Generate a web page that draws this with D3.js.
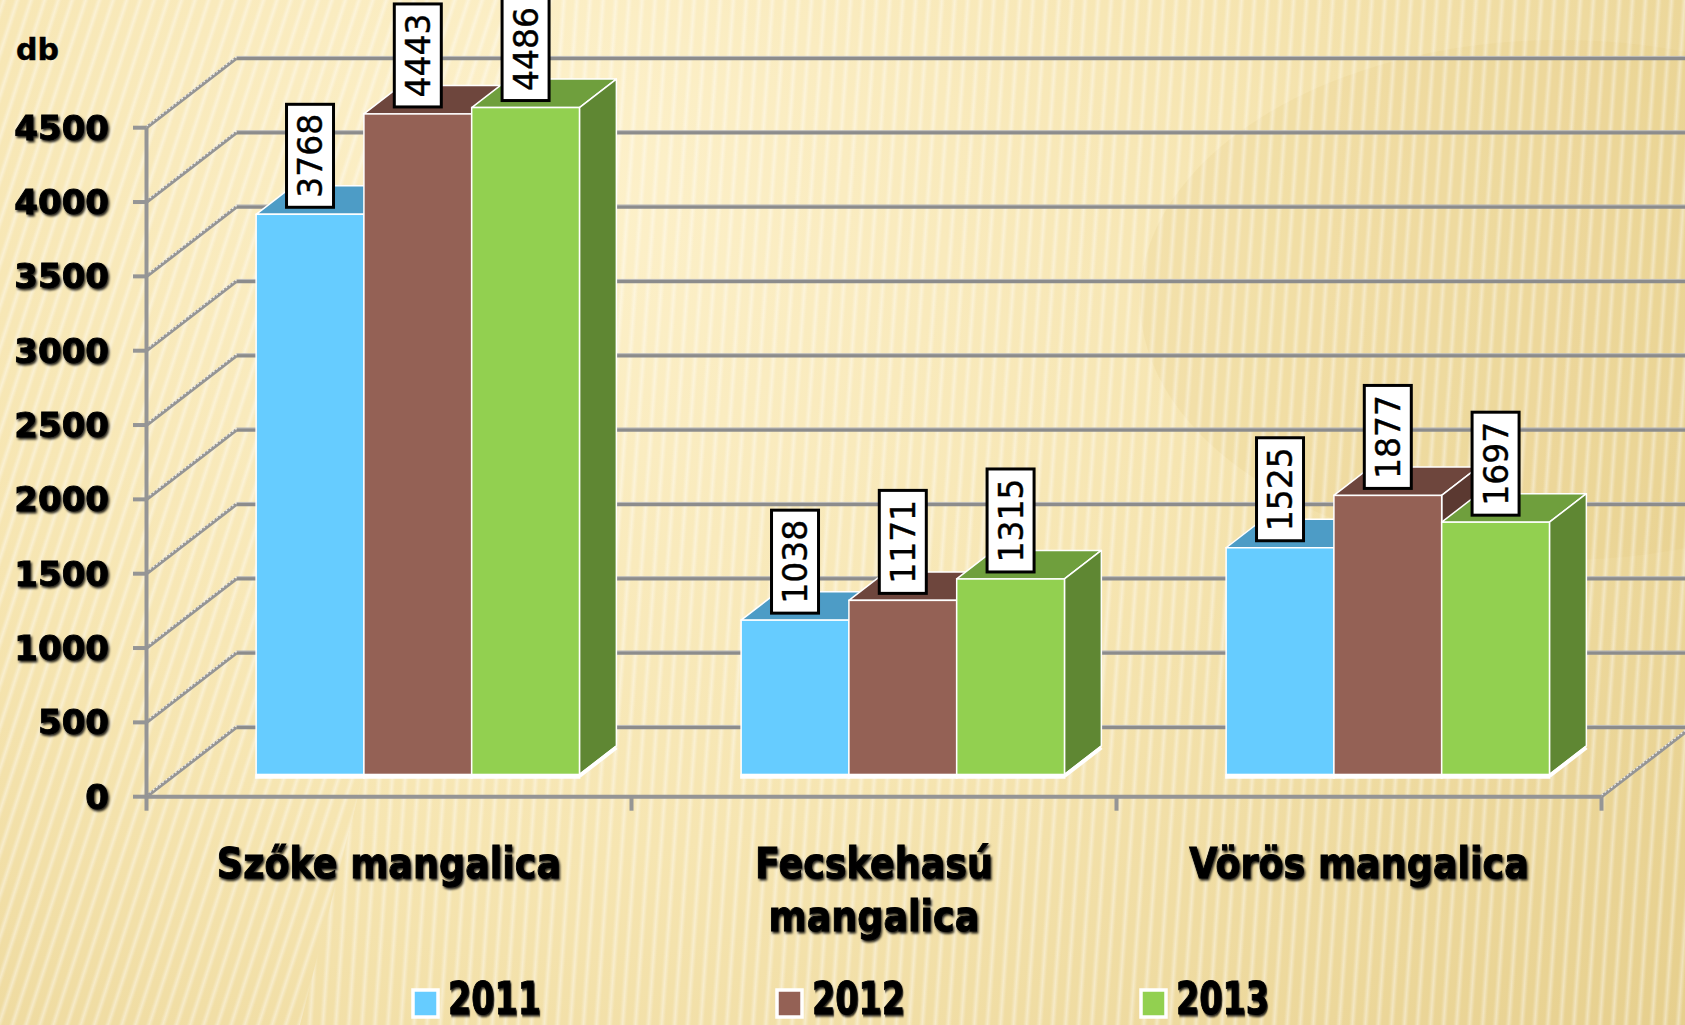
<!DOCTYPE html>
<html>
<head>
<meta charset="utf-8">
<script src="https://cdn.jsdelivr.net/npm/d3@7"></script>
<style>
  body { margin: 0; overflow: hidden; background: #f5e6b4; }
  text { font-family: 'DejaVu Sans', Verdana, sans-serif; }
</style>
</head>
<body>
<svg id="chart" width="1685" height="1025"></svg>
<script>
// data
const categories = ['Szőke mangalica', 'Fecskehasú mangalica', 'Vörös mangalica'];
const categoryLines = [['Szőke mangalica'], ['Fecskehasú', 'mangalica'], ['Vörös mangalica']];
const series = ['2011', '2012', '2013'];
const values2011 = [3768, 1038, 1525];
const values2012 = [4443, 1171, 1877];
const values2013 = [4486, 1315, 1697];
const yTicks = [0, 500, 1000, 1500, 2000, 2500, 3000, 3500, 4000, 4500];
const yUnit = 'db';

const seriesValues = [values2011, values2012, values2013];
const faceColors = [
  { front: '#66ccff', top: '#4d9cc6', side: '#3d85ab' },
  { front: '#946155', top: '#6e463d', side: '#5b3931' },
  { front: '#92d050', top: '#6f9f3d', side: '#5f8733' },
];

const svg = d3.select('#chart');
const defs = svg.append('defs');

// background
const bg = defs.append('radialGradient').attr('id', 'bg')
  .attr('gradientUnits', 'userSpaceOnUse')
  .attr('cx', 560).attr('cy', 180).attr('r', 1500);
bg.append('stop').attr('offset', '0').attr('stop-color', '#fdf1cb');
bg.append('stop').attr('offset', '0.45').attr('stop-color', '#f6e5b1');
bg.append('stop').attr('offset', '1').attr('stop-color', '#e4cc88');

const stripeGrad = defs.append('linearGradient').attr('id', 'stripeGrad');
stripeGrad.append('stop').attr('offset', '0').attr('stop-color', '#fff').attr('stop-opacity', 0);
stripeGrad.append('stop').attr('offset', '0.5').attr('stop-color', '#fff').attr('stop-opacity', 0.4);
stripeGrad.append('stop').attr('offset', '1').attr('stop-color', '#fff').attr('stop-opacity', 0);

function stripes(id, angle) {
  const p = defs.append('pattern').attr('id', id)
    .attr('patternUnits', 'userSpaceOnUse')
    .attr('width', 13).attr('height', 2000)
    .attr('patternTransform', `rotate(${angle})`);
  p.append('rect').attr('width', 7).attr('height', 2000).attr('fill', 'url(#stripeGrad)');
}
stripes('stripesL', 18);
stripes('stripesR', 4);

defs.append('clipPath').attr('id', 'leftClip')
  .append('path').attr('d', 'M0,0H560L300,1025H0Z');
defs.append('clipPath').attr('id', 'rightClip')
  .append('path').attr('d', 'M560,0H1685V1025H300Z');

svg.append('rect').attr('width', 1685).attr('height', 1025).attr('fill', 'url(#bg)');
svg.append('ellipse').attr('cx', 1560).attr('cy', 300).attr('rx', 420).attr('ry', 260)
  .attr('fill', '#e2c981').attr('opacity', 0.18);
svg.append('rect').attr('width', 1685).attr('height', 1025)
  .attr('fill', 'url(#stripesL)').attr('clip-path', 'url(#leftClip)');
svg.append('rect').attr('width', 1685).attr('height', 1025)
  .attr('fill', 'url(#stripesR)').attr('clip-path', 'url(#rightClip)');

const shadow = defs.append('filter').attr('id', 'shadow')
  .attr('x', '-10%').attr('y', '-10%').attr('width', '130%').attr('height', '140%');
shadow.append('feDropShadow').attr('dx', 1.5).attr('dy', 2).attr('stdDeviation', 1)
  .attr('flood-color', '#000').attr('flood-opacity', 0.85);

// geometry
const left = 146.5, right = 1601.5;
const depth = { dx: 90, dy: -69.5 };
const t0 = 0.32, t1 = 0.73;

const y = d3.scaleLinear().domain([0, 4500]).range([796.7, 127.7]);
const x0 = d3.scaleBand().domain(categories).range([left, right]).paddingInner(0).paddingOuter(0);
const x1 = d3.scaleBand().domain(series).range([0, x0.bandwidth()]).paddingInner(0).paddingOuter(0.75);

const grid = svg.append('g').attr('class', 'grid');

// back wall gridlines
grid.selectAll('.back').data(yTicks).enter().append('line')
  .attr('x1', left + depth.dx).attr('x2', right + depth.dx + 10)
  .attr('y1', d => y(d) + depth.dy).attr('y2', d => y(d) + depth.dy)
  .attr('stroke', '#8c8c8c').attr('stroke-width', 4);
grid.selectAll('.backHi').data(yTicks).enter().append('line')
  .attr('x1', left + depth.dx).attr('x2', right + depth.dx + 10)
  .attr('y1', d => y(d) + depth.dy - 1.8).attr('y2', d => y(d) + depth.dy - 1.8)
  .attr('stroke', '#c4c4c4').attr('stroke-width', 0.8);

// side wall diagonals
grid.selectAll('.side').data(yTicks).enter().append('line')
  .attr('x1', left).attr('x2', left + depth.dx)
  .attr('y1', d => y(d)).attr('y2', d => y(d) + depth.dy)
  .attr('stroke', '#959595').attr('stroke-width', 3.5);
grid.selectAll('.sideHi').data(yTicks).enter().append('line')
  .attr('x1', left).attr('x2', left + depth.dx)
  .attr('y1', d => y(d) - 1.6).attr('y2', d => y(d) + depth.dy - 1.6)
  .attr('stroke', '#f4f4f4').attr('stroke-width', 1.1).attr('stroke-dasharray', '2,2');

// floor right edge
grid.append('line')
  .attr('x1', right).attr('y1', y(0))
  .attr('x2', right + depth.dx).attr('y2', y(0) + depth.dy)
  .attr('stroke', '#959595').attr('stroke-width', 3.5);
grid.append('line')
  .attr('x1', right).attr('y1', y(0) - 1.6)
  .attr('x2', right + depth.dx).attr('y2', y(0) + depth.dy - 1.6)
  .attr('stroke', '#f4f4f4').attr('stroke-width', 1.1).attr('stroke-dasharray', '2,2');

// axes
const axes = svg.append('g').attr('class', 'axes');
axes.append('line').attr('x1', left).attr('x2', left)
  .attr('y1', y(4500)).attr('y2', y(0) + 1.5)
  .attr('stroke', '#959595').attr('stroke-width', 4);
axes.selectAll('.ytick').data(yTicks).enter().append('line')
  .attr('x1', 133).attr('x2', left)
  .attr('y1', d => y(d)).attr('y2', d => y(d))
  .attr('stroke', '#959595').attr('stroke-width', 4);
axes.append('line').attr('x1', left).attr('x2', right)
  .attr('y1', y(0)).attr('y2', y(0))
  .attr('stroke', '#959595').attr('stroke-width', 4);
const catTicks = categories.map(c => x0(c)).concat([right]);
axes.selectAll('.xtick').data(catTicks).enter().append('line')
  .attr('x1', d => d).attr('x2', d => d)
  .attr('y1', y(0)).attr('y2', y(0) + 14)
  .attr('stroke', '#959595').attr('stroke-width', 4);

axes.selectAll('.ylabel').data(yTicks).enter().append('text')
  .attr('transform', d => `translate(109,${y(d) + 12})`)
  .attr('text-anchor', 'end')
  .attr('font-size', 34).attr('font-weight', 'bold').attr('fill', '#000')
  .attr('stroke', '#000').attr('stroke-width', 0.9)
  .attr('filter', 'url(#shadow)')
  .text(d => d);

svg.append('text').attr('x', 16).attr('y', 59.5)
  .attr('font-size', 30).attr('font-weight', 'bold').attr('fill', '#000')
  .attr('stroke', '#000').attr('stroke-width', 0.5)
  .text(yUnit);

// category labels
const catG = svg.append('g').attr('class', 'cats');
categories.forEach((c, i) => {
  const cx = x0(c) + x0.bandwidth() / 2;
  categoryLines[i].forEach((line, j) => {
    catG.append('text')
      .attr('transform', `translate(${cx},${878 + j * 53}) scale(0.87,1.02)`)
      .attr('text-anchor', 'middle')
      .attr('font-size', 42).attr('font-weight', 'bold').attr('fill', '#000')
      .attr('stroke', '#000').attr('stroke-width', 1)
      .attr('filter', 'url(#shadow)')
      .text(line);
  });
});

// bars
const bars = svg.append('g').attr('class', 'bars');
const off0 = { x: depth.dx * t0, y: depth.dy * t0 };
const dd = { x: depth.dx * (t1 - t0), y: depth.dy * (t1 - t0) };
const bw = x1.bandwidth();
const labels = [];

categories.forEach((c, ci) => {
  series.forEach((s, si) => {
    const v = seriesValues[si][ci];
    const col = faceColors[si];
    const xl = x0(c) + x1(s) + off0.x;
    const xr = xl + bw;
    const yt = y(v) + off0.y;
    const yb = y(0) + off0.y;
    const g = bars.append('g');
    g.append('polygon')
      .attr('points', [[xl, yt], [xr, yt], [xr + dd.x, yt + dd.y], [xl + dd.x, yt + dd.y]].join(' '))
      .attr('fill', col.top).attr('stroke', '#fff').attr('stroke-width', 1.5).attr('stroke-linejoin', 'round');
    g.append('polygon')
      .attr('points', [[xr, yt], [xr + dd.x, yt + dd.y], [xr + dd.x, yb + dd.y], [xr, yb]].join(' '))
      .attr('fill', col.side).attr('stroke', '#fff').attr('stroke-width', 1.5).attr('stroke-linejoin', 'round');
    g.append('line')
      .attr('x1', xr).attr('y1', yb + 1.5).attr('x2', xr + dd.x).attr('y2', yb + dd.y + 1.5)
      .attr('stroke', '#fff').attr('stroke-width', 4);
    g.append('rect')
      .attr('x', xl).attr('y', yt).attr('width', bw).attr('height', yb - yt)
      .attr('fill', col.front).attr('stroke', '#fff').attr('stroke-width', 1.5);
    g.append('line')
      .attr('x1', xl - 1).attr('x2', xr + 1).attr('y1', yb + 2).attr('y2', yb + 2)
      .attr('stroke', '#fff').attr('stroke-width', 4.5);
    labels.push({ v, cx: xl + bw / 2, top: yt });
  });
});

// data labels
const lab = svg.append('g').attr('class', 'labels');
labels.forEach(d => {
  const g = lab.append('g');
  const rect = g.append('rect');
  const t = g.append('text')
    .attr('text-anchor', 'middle')
    .attr('font-size', 33).attr('fill', '#000')
    .attr('stroke', '#000').attr('stroke-width', 0.4)
    .text(d.v);
  const len = t.node().getComputedTextLength();
  const h = len + 19, w = 47;
  const cy = d.top - 7 - h / 2;
  rect.attr('x', d.cx - w / 2).attr('y', cy - h / 2).attr('width', w).attr('height', h)
    .attr('fill', '#fff').attr('stroke', '#000').attr('stroke-width', 3);
  t.attr('transform', `translate(${d.cx + 12},${cy}) rotate(-90)`);
});

// legend
const legend = svg.append('g').attr('class', 'legend');
series.forEach((s, i) => {
  const lx = 413 + i * 364;
  legend.append('rect').attr('x', lx).attr('y', 990).attr('width', 25).attr('height', 27)
    .attr('fill', faceColors[i].front).attr('stroke', '#fff').attr('stroke-width', 3.5);
  legend.append('text')
    .attr('transform', `translate(${lx + 35},1014) scale(0.76,1)`)
    .attr('font-size', 44).attr('font-weight', 'bold').attr('fill', '#000')
    .attr('stroke', '#000').attr('stroke-width', 1)
    .attr('filter', 'url(#shadow)')
    .text(s);
});
</script>
</body>
</html>
